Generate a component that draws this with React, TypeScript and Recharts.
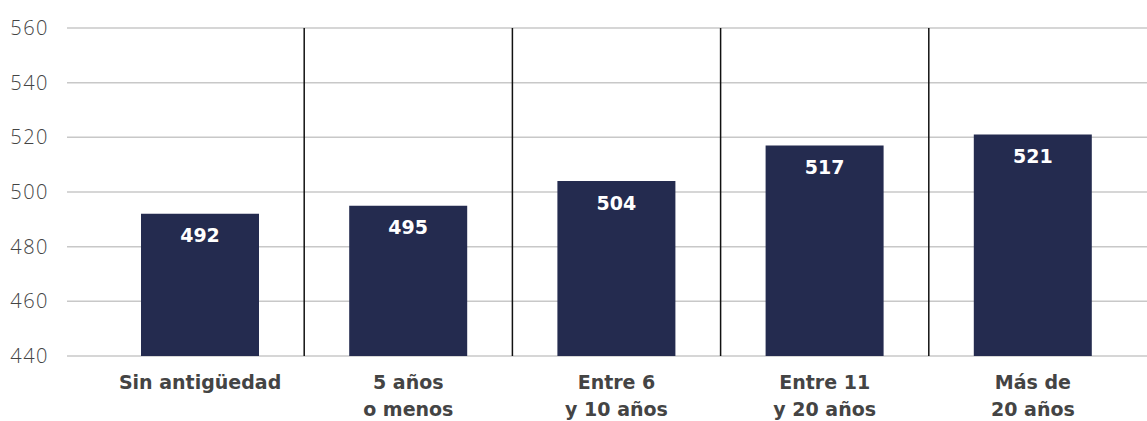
import { BarChart, Bar, XAxis, YAxis, CartesianGrid, ReferenceLine, LabelList } from 'recharts'

const categories = ['Sin antigüedad', '5 años\no menos', 'Entre 6\ny 10 años', 'Entre 11\ny 20 años', 'Más de\n20 años']
const scores = [492, 495, 504, 517, 521]
const yTicks = [440, 460, 480, 500, 520, 540, 560]

const data = categories.map((name, i) => ({ name, score: scores[i] }))

const boldFont = '"DejaVu Sans", Verdana, sans-serif'
const tickFont = '"Open Sans", "Noto Sans", sans-serif'

function CategoryTick({ x, y, payload }: any) {
  const lines = String(payload.value).split('\n')
  return (
    <text x={x} y={y} textAnchor="middle" fill="#444" fontFamily={boldFont} fontSize={19} fontWeight={700}>
      {lines.map((l, i) => (
        <tspan key={i} x={x} dy={i === 0 ? 25 : 27}>{l}</tspan>
      ))}
    </text>
  )
}

export default function App() {
  return (
    <div style={{ position: 'absolute', left: 0, top: 0 }}>
      <BarChart width={1147} height={421} data={data} margin={{ top: 28, right: 0, bottom: 0, left: 0 }}>
        <CartesianGrid horizontal vertical={false} stroke="#c8c8c8" strokeWidth={1.5} />
        <XAxis
          dataKey="name"
          padding={{ left: 29, right: 10 }}
          axisLine={false}
          tickLine={false}
          tick={<CategoryTick />}
          interval={0}
          height={65}
        />
        <YAxis
          domain={[440, 560]}
          ticks={yTicks}
          width={67}
          axisLine={false}
          tickLine={false}
          tickMargin={12}
          tick={{ fill: '#444', fontSize: 20, fontFamily: tickFont, fontWeight: 300, letterSpacing: 1.5 }}
        />
        {categories.slice(1).map((c) => (
          <ReferenceLine key={c} x={c} position="start" stroke="#111" strokeWidth={1.5} />
        ))}
        <Bar dataKey="score" fill="#242b4f" barSize={118} isAnimationActive={false}>
          <LabelList dataKey="score" position="insideTop" offset={15} fill="#fff" fontSize={19} fontWeight={700} fontFamily={boldFont} />
        </Bar>
      </BarChart>
    </div>
  )
}
